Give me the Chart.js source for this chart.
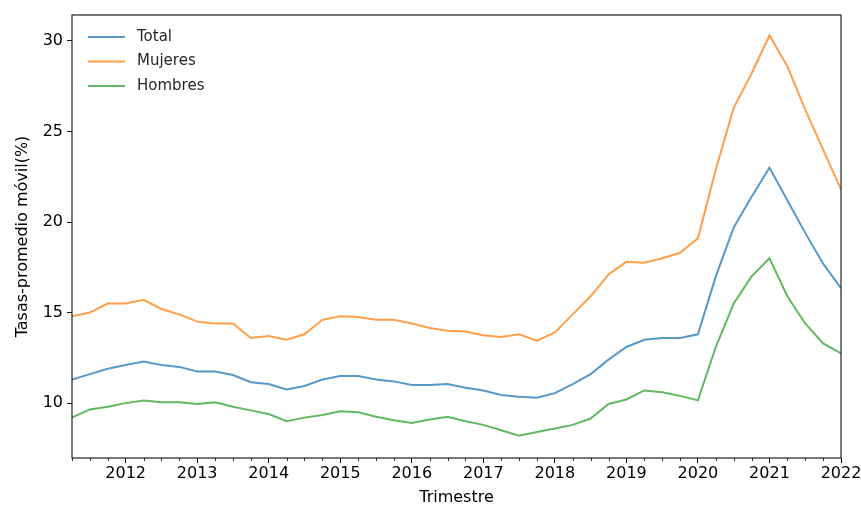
<!DOCTYPE html>
<html>
<head>
<meta charset="utf-8">
<script src="https://cdn.jsdelivr.net/npm/chart.js@4.4.1/dist/chart.umd.min.js"></script>
<style>
  html, body { margin: 0; padding: 0; background: #ffffff; }
  #wrap { width: 861px; height: 507px; }
</style>
</head>
<body>
<div id="wrap"><canvas id="c" width="861" height="507"></canvas></div>
<script>
// Quarter positions (decimal years), 2011 Q2 .. 2022 Q1
const quarters = [
  2011.25, 2011.5, 2011.75,
  2012.0, 2012.25, 2012.5, 2012.75,
  2013.0, 2013.25, 2013.5, 2013.75,
  2014.0, 2014.25, 2014.5, 2014.75,
  2015.0, 2015.25, 2015.5, 2015.75,
  2016.0, 2016.25, 2016.5, 2016.75,
  2017.0, 2017.25, 2017.5, 2017.75,
  2018.0, 2018.25, 2018.5, 2018.75,
  2019.0, 2019.25, 2019.5, 2019.75,
  2020.0, 2020.25, 2020.5, 2020.75,
  2021.0, 2021.25, 2021.5, 2021.75,
  2022.0
];

const total = [
  11.3, 11.6, 11.9,
  12.1, 12.3, 12.1, 12.0,
  11.75, 11.75, 11.55, 11.15,
  11.05, 10.75, 10.95, 11.3,
  11.5, 11.5, 11.3, 11.2,
  11.0, 11.0, 11.05, 10.85,
  10.7, 10.45, 10.35, 10.3,
  10.55, 11.05, 11.6, 12.4,
  13.1, 13.5, 13.6, 13.6,
  13.8, 17.0, 19.7, 21.4,
  23.0, 21.2, 19.4, 17.7,
  16.35
];

const mujeres = [
  14.8, 15.0, 15.5,
  15.5, 15.7, 15.2, 14.9,
  14.5, 14.4, 14.4, 13.6,
  13.7, 13.5, 13.8, 14.6,
  14.8, 14.75, 14.6, 14.6,
  14.4, 14.15, 14.0, 13.95,
  13.75, 13.65, 13.8, 13.45,
  13.9, 14.9, 15.9, 17.1,
  17.8, 17.75, 18.0, 18.3,
  19.1, 22.9, 26.3, 28.2,
  30.3, 28.6, 26.2, 24.0,
  21.8
];

const hombres = [
  9.2, 9.65, 9.8,
  10.0, 10.15, 10.05, 10.05,
  9.95, 10.05, 9.8, 9.6,
  9.4, 9.0, 9.2, 9.35,
  9.55, 9.5, 9.25, 9.05,
  8.9, 9.1, 9.25, 9.0,
  8.8, 8.5, 8.2, 8.4,
  8.6, 8.8, 9.15, 9.95,
  10.2, 10.7, 10.6, 10.4,
  10.15, 13.1, 15.5, 17.0,
  18.0, 15.9, 14.4, 13.3,
  12.75
];

const yearTicks = [2012, 2013, 2014, 2015, 2016, 2017, 2018, 2019, 2020, 2021, 2022];
const yTicks = [10, 15, 20, 25, 30];

const seriesNames = ['Total', 'Mujeres', 'Hombres'];
const seriesColors = ['rgba(31,119,180,0.75)', 'rgba(255,127,14,0.75)', 'rgba(44,160,44,0.75)'];
const seriesValues = [total, mujeres, hombres];

const FONT = 'DejaVu Sans';

const framePlugin = {
  id: 'frameAndExtras',
  afterDraw(chart) {
    const ctx = chart.ctx;
    const a = chart.chartArea;
    const xs = chart.scales.x;
    ctx.save();
    // minor ticks (quarters)
    ctx.strokeStyle = '#000';
    ctx.lineWidth = 0.8;
    quarters.forEach(q => {
      if (Number.isInteger(q)) return;
      const px = Math.round(xs.getPixelForValue(q)) + 0.5;
      ctx.beginPath();
      ctx.moveTo(px, a.bottom);
      ctx.lineTo(px, a.bottom + 3);
      ctx.stroke();
    });
    // frame
    ctx.strokeStyle = '#222';
    ctx.lineWidth = 1.2;
    ctx.strokeRect(a.left, a.top, a.right - a.left, a.bottom - a.top);
    // legend
    ctx.font = '15px "' + FONT + '"';
    ctx.textBaseline = 'middle';
    ctx.textAlign = 'left';
    chart.data.datasets.forEach((ds, i) => {
      const y = a.top + 22 + i * 24.5;
      ctx.strokeStyle = ds.borderColor;
      ctx.lineWidth = 2;
      ctx.beginPath();
      ctx.moveTo(a.left + 16, y);
      ctx.lineTo(a.left + 53, y);
      ctx.stroke();
      ctx.fillStyle = '#262626';
      ctx.fillText(ds.label, a.left + 65, y);
    });
    ctx.restore();
  }
};

new Chart(document.getElementById('c'), {
  type: 'line',
  data: {
    datasets: seriesNames.map((name, i) => ({
      label: name,
      data: quarters.map((q, j) => ({ x: q, y: seriesValues[i][j] })),
      borderColor: seriesColors[i],
      backgroundColor: seriesColors[i],
      borderWidth: 2,
      pointRadius: 0,
      tension: 0,
      fill: false
    }))
  },
  options: {
    responsive: false,
    animation: false,
    devicePixelRatio: 1,
    layout: { padding: { top: 15, right: 20, left: 0, bottom: 0 } },
    plugins: { legend: { display: false }, tooltip: { enabled: false } },
    scales: {
      x: {
        type: 'linear',
        min: 2011.25,
        max: 2022,
        afterBuildTicks(scale) { scale.ticks = yearTicks.map(v => ({ value: v })); },
        afterFit(scale) { scale.height = 49; scale.paddingRight = 0; scale.paddingLeft = 0; },
        ticks: {
          autoSkip: false,
          maxRotation: 0,
          padding: 1,
          color: '#000',
          font: { family: FONT, size: 16 },
          callback: v => String(v)
        },
        grid: { drawOnChartArea: false, drawTicks: true, tickLength: 5, tickColor: '#000', tickWidth: 1 },
        border: { display: false },
        title: {
          display: true,
          text: 'Trimestre',
          color: '#000',
          font: { family: FONT, size: 16 },
          padding: { top: 0, bottom: 0 }
        }
      },
      y: {
        type: 'linear',
        min: 6.97,
        max: 31.43,
        afterBuildTicks(scale) { scale.ticks = yTicks.map(v => ({ value: v })); },
        afterFit(scale) { scale.width = 72; scale.paddingTop = 0; scale.paddingBottom = 0; },
        ticks: {
          padding: 4,
          color: '#000',
          font: { family: FONT, size: 16 },
          callback: v => String(v)
        },
        grid: { drawOnChartArea: false, drawTicks: true, tickLength: 5, tickColor: '#000', tickWidth: 1 },
        border: { display: false },
        title: {
          display: true,
          text: 'Tasas-promedio móvil(%)',
          color: '#000',
          font: { family: FONT, size: 16 },
          padding: { top: 13, bottom: 0 }
        }
      }
    }
  },
  plugins: [framePlugin]
});
</script>
</body>
</html>
